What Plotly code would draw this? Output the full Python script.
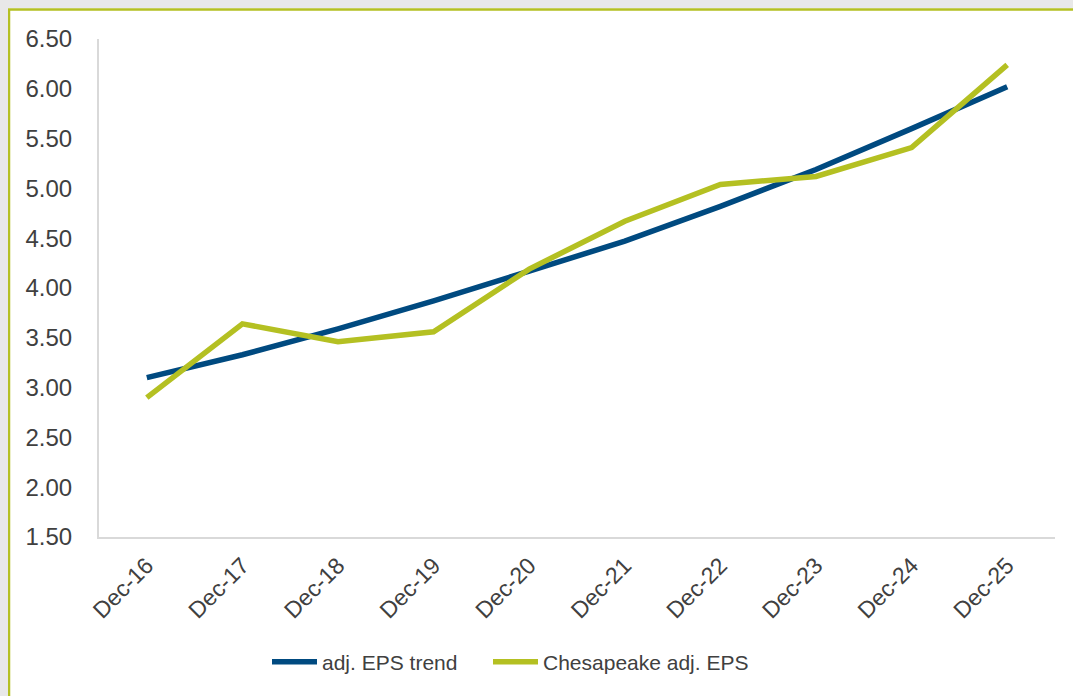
import plotly.graph_objects as go

categories = ["Dec-16", "Dec-17", "Dec-18", "Dec-19", "Dec-20",
              "Dec-21", "Dec-22", "Dec-23", "Dec-24", "Dec-25"]
trend_eps = [3.10, 3.33, 3.59, 3.87, 4.17, 4.47, 4.82, 5.19, 5.60, 6.02]
chesapeake_eps = [2.90, 3.64, 3.46, 3.56, 4.19, 4.67, 5.04, 5.12, 5.41, 6.24]
y_ticks = [1.5, 2.0, 2.5, 3.0, 3.5, 4.0, 4.5, 5.0, 5.5, 6.0, 6.5]

BLUE = "#004a80"
GREEN = "#b4c022"
TEXT = "#404040"
FONT = "Liberation Sans, Arial, sans-serif"

# figure sits inside the page's 8px body margin
W, H = 1065, 688
ML, MR, MT, MB = 91, 18, 31, 159
PW = W - ML - MR
PH = H - MT - MB

def px_x(p):
    return (p - ML) / PW

def px_y(p):
    return (H - MB - p) / PH

fig = go.Figure()
fig.add_trace(go.Scatter(x=categories, y=trend_eps, mode="lines",
                         name="adj. EPS trend", legend="legend",
                         line=dict(color=BLUE, width=5.5)))
fig.add_trace(go.Scatter(x=categories, y=chesapeake_eps, mode="lines",
                         name="Chesapeake adj. EPS", legend="legend2",
                         line=dict(color=GREEN, width=5.5)))

legend_common = dict(orientation="h", xanchor="left",
                     y=px_y(654), yanchor="middle",
                     font=dict(size=21, color=TEXT),
                     bgcolor="rgba(0,0,0,0)", itemwidth=45)

fig.update_layout(
    width=W, height=H,
    margin=dict(l=ML, r=MR, t=MT, b=MB, pad=0),
    paper_bgcolor="white",
    plot_bgcolor="rgba(0,0,0,0)",
    font=dict(family=FONT, size=21, color=TEXT),
    showlegend=True,
    legend=dict(x=px_x(259), **legend_common),
    legend2=dict(x=px_x(480), **legend_common),
    shapes=[dict(type="rect", xref="paper", yref="paper",
                 x0=px_x(1), x1=px_x(W + 20), y0=px_y(H + 20), y1=px_y(1.5),
                 fillcolor="rgba(0,0,0,0)", line=dict(color=GREEN, width=2.5),
                 layer="below")],
)

fig.update_xaxes(
    type="category", range=[-0.5, 9.5],
    showgrid=False, showline=True, linecolor="#d9d9d9", linewidth=2,
    ticks="", tickangle=-45, ticklabelstandoff=4,
    tickfont=dict(size=23, color=TEXT),
)
fig.update_yaxes(
    range=[1.5, 6.5], tickvals=y_ticks, tickformat=".2f",
    showgrid=False, showline=True, linecolor="#d9d9d9", linewidth=2,
    ticks="", ticklabelstandoff=20, zeroline=False,
    tickfont=dict(size=24, color=TEXT),
)

post_js = (
    "document.body.style.margin='8px 0 0 8px';"
    "document.body.style.background='#e8e8e8';"
    "document.body.style.overflow='hidden';"
)
fig.write_html("out.html", post_script=post_js)
